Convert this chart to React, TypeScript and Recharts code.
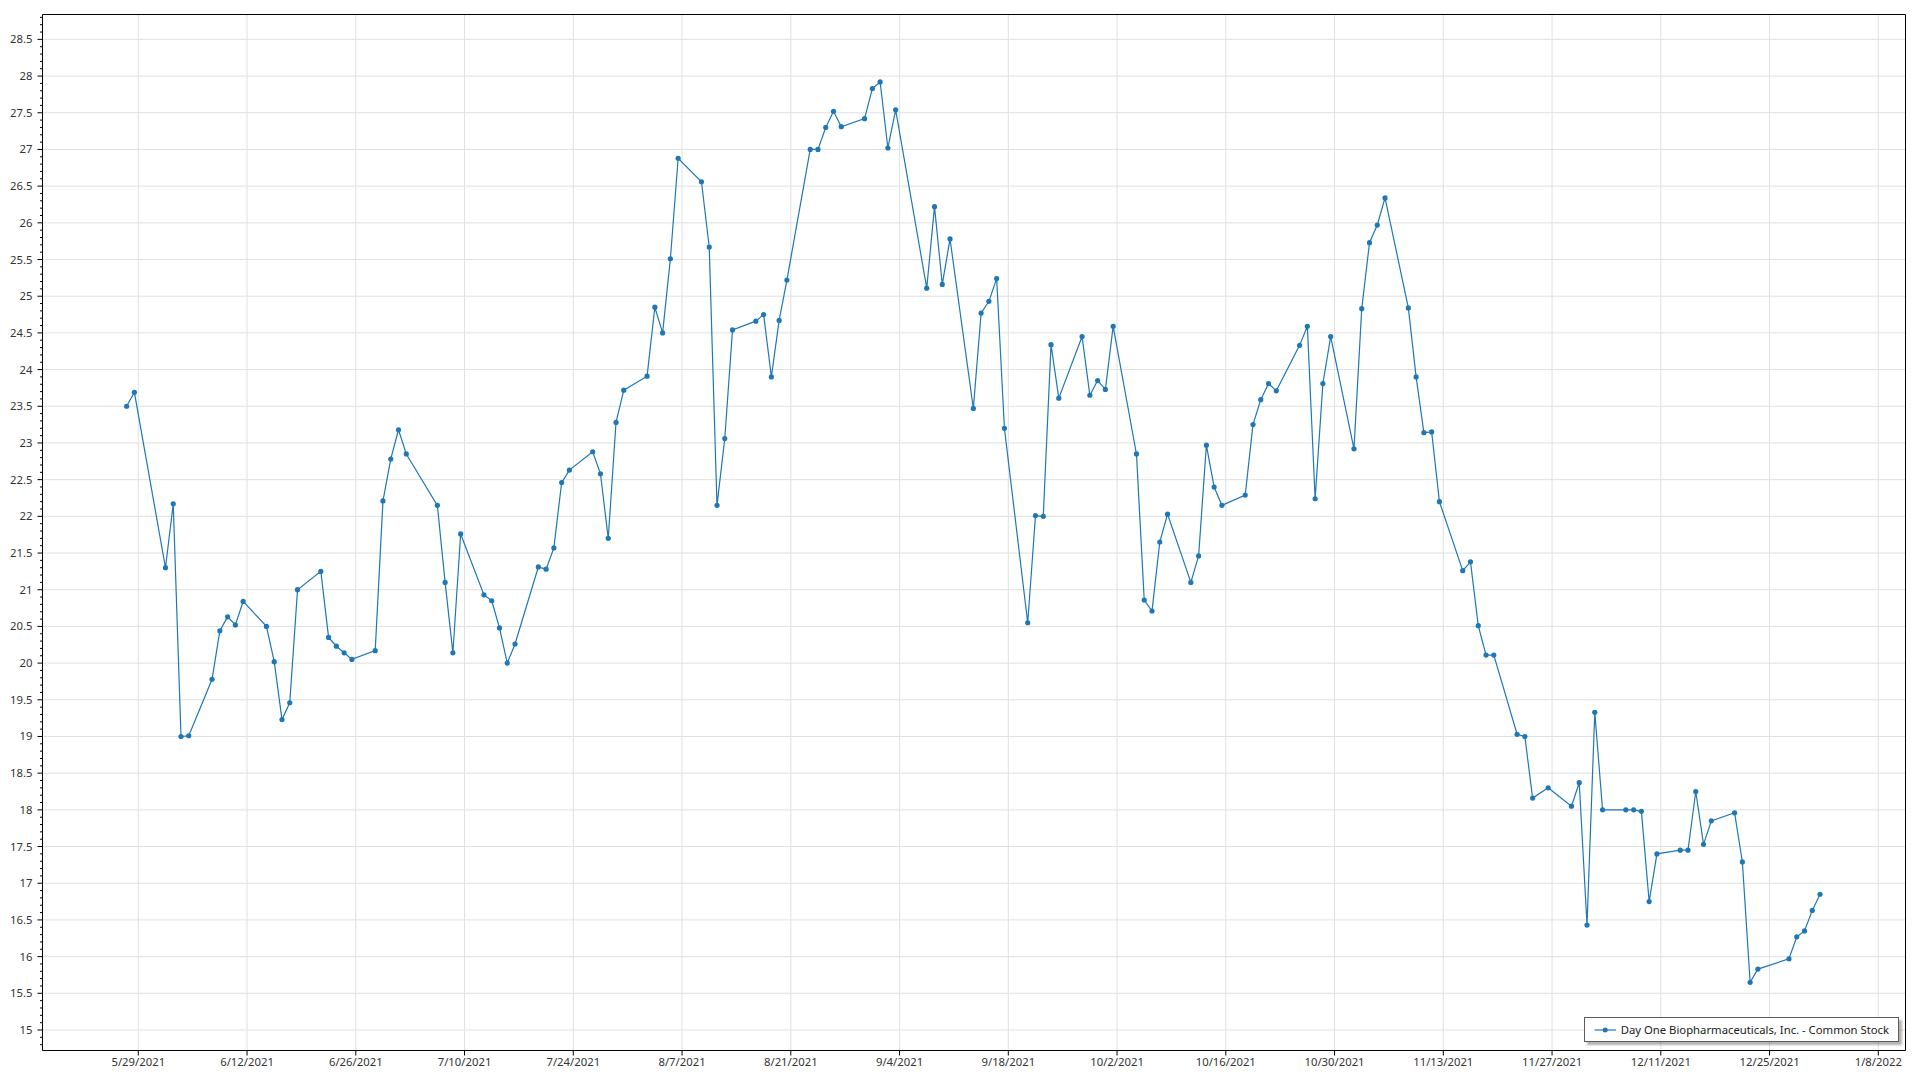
import React from 'react';
import { LineChart, Line, XAxis, YAxis, CartesianGrid, ReferenceArea, Legend } from 'recharts';

const SERIES_NAME = 'Day One Biopharmaceuticals, Inc. - Common Stock';

const dates: string[] = [
  '2021-05-27', '2021-05-28', '2021-06-01', '2021-06-02', '2021-06-03', '2021-06-04',
  '2021-06-07', '2021-06-08', '2021-06-09', '2021-06-10', '2021-06-11',
  '2021-06-14', '2021-06-15', '2021-06-16', '2021-06-17', '2021-06-18',
  '2021-06-21', '2021-06-22', '2021-06-23', '2021-06-24', '2021-06-25',
  '2021-06-28', '2021-06-29', '2021-06-30', '2021-07-01', '2021-07-02',
  '2021-07-06', '2021-07-07', '2021-07-08', '2021-07-09',
  '2021-07-12', '2021-07-13', '2021-07-14', '2021-07-15', '2021-07-16',
  '2021-07-19', '2021-07-20', '2021-07-21', '2021-07-22', '2021-07-23',
  '2021-07-26', '2021-07-27', '2021-07-28', '2021-07-29', '2021-07-30',
  '2021-08-02', '2021-08-03', '2021-08-04', '2021-08-05', '2021-08-06',
  '2021-08-09', '2021-08-10', '2021-08-11', '2021-08-12', '2021-08-13',
  '2021-08-16', '2021-08-17', '2021-08-18', '2021-08-19', '2021-08-20',
  '2021-08-23', '2021-08-24', '2021-08-25', '2021-08-26', '2021-08-27',
  '2021-08-30', '2021-08-31', '2021-09-01', '2021-09-02', '2021-09-03',
  '2021-09-07', '2021-09-08', '2021-09-09', '2021-09-10',
  '2021-09-13', '2021-09-14', '2021-09-15', '2021-09-16', '2021-09-17',
  '2021-09-20', '2021-09-21', '2021-09-22', '2021-09-23', '2021-09-24',
  '2021-09-27', '2021-09-28', '2021-09-29', '2021-09-30', '2021-10-01',
  '2021-10-04', '2021-10-05', '2021-10-06', '2021-10-07', '2021-10-08',
  '2021-10-11', '2021-10-12', '2021-10-13', '2021-10-14', '2021-10-15',
  '2021-10-18', '2021-10-19', '2021-10-20', '2021-10-21', '2021-10-22',
  '2021-10-25', '2021-10-26', '2021-10-27', '2021-10-28', '2021-10-29',
  '2021-11-01', '2021-11-02', '2021-11-03', '2021-11-04', '2021-11-05',
  '2021-11-08', '2021-11-09', '2021-11-10', '2021-11-11', '2021-11-12',
  '2021-11-15', '2021-11-16', '2021-11-17', '2021-11-18', '2021-11-19',
  '2021-11-22', '2021-11-23', '2021-11-24', '2021-11-26',
  '2021-11-29', '2021-11-30', '2021-12-01', '2021-12-02', '2021-12-03',
  '2021-12-06', '2021-12-07', '2021-12-08', '2021-12-09', '2021-12-10',
  '2021-12-13', '2021-12-14', '2021-12-15', '2021-12-16', '2021-12-17',
  '2021-12-20', '2021-12-21', '2021-12-22', '2021-12-23',
  '2021-12-27', '2021-12-28', '2021-12-29', '2021-12-30', '2021-12-31',
];

const prices: number[] = [
  23.50, 23.69, 21.30, 22.17, 19.00, 19.01,
  19.78, 20.44, 20.63, 20.52, 20.84,
  20.50, 20.02, 19.23, 19.46, 21.00,
  21.25, 20.35, 20.23, 20.14, 20.05,
  20.17, 22.21, 22.78, 23.18, 22.85,
  22.15, 21.10, 20.14, 21.76,
  20.93, 20.85, 20.48, 20.00, 20.26,
  21.31, 21.28, 21.57, 22.46, 22.63,
  22.88, 22.58, 21.70, 23.28, 23.72,
  23.91, 24.85, 24.50, 25.51, 26.88,
  26.56, 25.67, 22.15, 23.06, 24.54,
  24.66, 24.75, 23.90, 24.67, 25.22,
  27.00, 27.00, 27.30, 27.52, 27.31,
  27.42, 27.83, 27.92, 27.02, 27.54,
  25.11, 26.22, 25.16, 25.78,
  23.47, 24.77, 24.93, 25.24, 23.20,
  20.55, 22.01, 22.00, 24.34, 23.61,
  24.45, 23.65, 23.85, 23.73, 24.59,
  22.85, 20.86, 20.71, 21.65, 22.03,
  21.10, 21.46, 22.97, 22.40, 22.15,
  22.29, 23.25, 23.59, 23.81, 23.71,
  24.33, 24.59, 22.24, 23.81, 24.45,
  22.92, 24.83, 25.73, 25.97, 26.34,
  24.84, 23.90, 23.14, 23.15, 22.20,
  21.26, 21.38, 20.51, 20.11, 20.11,
  19.03, 19.00, 18.16, 18.30,
  18.05, 18.37, 16.43, 19.33, 18.00,
  18.00, 18.00, 17.98, 16.75, 17.40,
  17.45, 17.45, 18.25, 17.53, 17.85,
  17.96, 17.29, 15.65, 15.83,
  15.97, 16.27, 16.35, 16.63, 16.85,
];

const xTickLabels: string[] = [
  '5/29/2021', '6/12/2021', '6/26/2021', '7/10/2021', '7/24/2021', '8/7/2021',
  '8/21/2021', '9/4/2021', '9/18/2021', '10/2/2021', '10/16/2021', '10/30/2021',
  '11/13/2021', '11/27/2021', '12/11/2021', '12/25/2021', '1/8/2022',
];

const DAY = 86400000;
const parseMDY = (s: string) => {
  const [m, d, y] = s.split('/').map(Number);
  return Date.UTC(y, m - 1, d);
};
const xTicks = xTickLabels.map(parseMDY);
const X_ORIGIN = xTicks[0];
const xDomain: [number, number] = [X_ORIGIN - 12.33 * DAY, X_ORIGIN + 227.5 * DAY];
const yDomain: [number, number] = [14.7206, 28.839];

const yMinorTicks: number[] = Array.from({ length: 141 }, (_, i) => Math.round((14.8 + i * 0.1) * 10) / 10);
const yMajorTicks: number[] = yMinorTicks.filter((v) => Math.round(v * 10) % 5 === 0);

// quotes are stamped at midday of each trading date
const data = dates.map((s, i) => ({ t: Date.parse(s + 'T12:00:00Z'), price: prices[i] }));

const FONT = '"Noto Sans", sans-serif';
const TEXT_COLOR = '#333';
const BLUE = '#1f77b4';

const fmtDate = (t: number) => {
  const d = new Date(t);
  return `${d.getUTCMonth() + 1}/${d.getUTCDate()}/${d.getUTCFullYear()}`;
};

const YTick = (props: any) => {
  const { x, y, payload } = props;
  const v = payload.value as number;
  const major = Math.abs(v * 2 - Math.round(v * 2)) < 1e-6;
  return (
    <g>
      <line x1={x - (major ? 5 : 2.5)} x2={x} y1={y} y2={y} stroke="#000" strokeWidth={1} />
      {major && (
        <text x={x - 10} y={y} dy="0.355em" textAnchor="end" fontSize={11.3} fontFamily={FONT} fill={TEXT_COLOR}>
          {String(v)}
        </text>
      )}
    </g>
  );
};

const LegendBox = () => (
  <div
    style={{
      position: 'relative',
      boxSizing: 'border-box',
      width: 315,
      height: 25,
      border: '1px solid #5c5c5c',
      background: '#fff',
      boxShadow: '3px 3px 2px rgba(0,0,0,0.3)',
      fontFamily: FONT,
      fontSize: 11.3,
      color: '#222',
    }}
  >
    <svg width={24} height={23} style={{ position: 'absolute', left: 9.3, top: 0 }}>
      <line x1={0.5} x2={22} y1={12} y2={12} stroke={BLUE} strokeOpacity={0.6} strokeWidth={2} />
      <circle cx={11.2} cy={12} r={2.5} fill={BLUE} />
    </svg>
    <span style={{ position: 'absolute', left: 35.7, top: 0, lineHeight: '23px', whiteSpace: 'nowrap' }}>{SERIES_NAME}</span>
  </div>
);

export default function App() {
  return (
    <div style={{ position: 'absolute', left: 0, top: 0, width: 1920, height: 1080, background: '#fff' }}>
      <LineChart width={1920} height={1080} data={data} margin={{ top: 14.5, right: 14.5, bottom: 0, left: 0 }}>
        <CartesianGrid stroke="#e0e0e0" horizontalValues={yMajorTicks} verticalValues={xTicks} />
        <XAxis
          dataKey="t"
          type="number"
          domain={xDomain}
          allowDataOverflow
          ticks={xTicks}
          interval={0}
          tickFormatter={fmtDate}
          height={29.5}
          tickSize={5}
          tickMargin={2}
          axisLine={false}
          tickLine={{ stroke: '#000' }}
          tick={{ fontSize: 11.3, fontFamily: FONT, fill: TEXT_COLOR }}
        />
        <YAxis
          type="number"
          domain={yDomain}
          allowDataOverflow
          ticks={yMinorTicks}
          interval={0}
          width={42.5}
          tickSize={0}
          tickMargin={0}
          axisLine={false}
          tickLine={false}
          tick={YTick}
        />
        <ReferenceArea
          x1={xDomain[0]}
          x2={xDomain[1]}
          y1={yDomain[0]}
          y2={yDomain[1]}
          fill="none"
          fillOpacity={0}
          stroke="#000"
          strokeWidth={1}
          ifOverflow="visible"
        />
        <Line
          type="linear"
          dataKey="price"
          name={SERIES_NAME}
          stroke={BLUE}
          strokeWidth={1.2}
          dot={{ r: 2.6, fill: BLUE, stroke: 'none', strokeWidth: 0 }}
          activeDot={false}
          isAnimationActive={false}
        />
        <Legend
          layout="horizontal"
          verticalAlign="middle"
          align="center"
          wrapperStyle={{ left: 1584, top: 1017, width: 315, height: 25 }}
          content={LegendBox}
        />
      </LineChart>
    </div>
  );
}
